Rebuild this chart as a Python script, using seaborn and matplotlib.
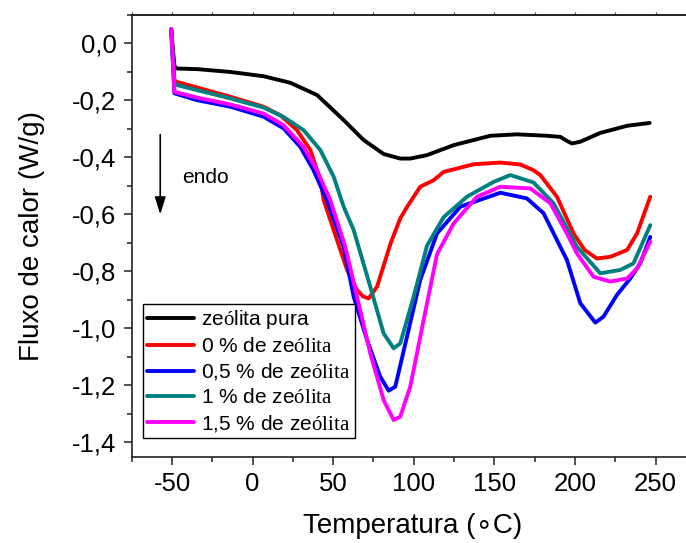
import matplotlib
matplotlib.use("Agg")
import matplotlib.pyplot as plt
from matplotlib.lines import Line2D
import numpy as np
import pandas as pd
import seaborn as sns

# ---------------- data ----------------
series_names = ["zeólita pura", "0 % de zeólita", "0,5 % de zeólita",
                "1 % de zeólita", "1,5 % de zeólita"]
legend_labels = [r"ze$\mathrm{ó}$lita pura", r"0 % de ze$\mathrm{ólita}$",
                 r"0,5 % de ze$\mathrm{ólita}$", r"1 % de ze$\mathrm{ólita}$",
                 r"1,5 % de ze$\mathrm{ólita}$"]
colors = ["#000000", "#FF0000", "#0000FF", "#008080", "#FF00FF"]

pura_T = [-50.5, -48.5, -46.9, -34.5, -13.8, 6.8, 23.4, 40, 56.5, 68.9, 81.3,
          91.6, 97.8, 108.2, 124.7, 147.5, 164, 182.6, 190.9, 195, 198.1,
          203.3, 215.7, 232.3, 246.3]
pura_F = [0.05, -0.08, -0.088, -0.090, -0.100, -0.115, -0.138, -0.181, -0.269,
          -0.339, -0.388, -0.404, -0.404, -0.392, -0.357, -0.324, -0.319,
          -0.324, -0.328, -0.342, -0.351, -0.345, -0.314, -0.289, -0.279]

z0_T = [-50.5, -48.5, -46.9, -13.8, 6.8, 17.2, 27.5, 35.8, 42.1, 44.1, 50.3,
        58.6, 64.8, 68.5, 72, 77.2, 85.6, 91.6, 95.9, 104, 112.3, 118.5, 137.1,
        153.7, 166.1, 174.3, 178.5, 188.8, 199.1, 206, 213.6, 221.9, 232.3,
        238.5, 246.7]
z0_F = [0.05, -0.13, -0.135, -0.187, -0.222, -0.252, -0.304, -0.374, -0.48,
        -0.55, -0.655, -0.795, -0.866, -0.888, -0.895, -0.854, -0.702, -0.614,
        -0.573, -0.503, -0.480, -0.451, -0.424, -0.418, -0.425, -0.445,
        -0.462, -0.538, -0.667, -0.725, -0.755, -0.749, -0.725, -0.667, -0.538]

z05_T = [-50.5, -48.5, -34.5, -13.8, 6.8, 19.2, 29.6, 37.8, 46.1, 56.5, 62.7,
         71, 79.2, 84.4, 88.5, 95.8, 104, 114.4, 128.9, 153.7, 170.2, 180.5,
         190.9, 195, 203.3, 212.6, 217.7, 226, 234.3, 240.5, 246.7]
z05_F = [0.05, -0.175, -0.199, -0.222, -0.257, -0.298, -0.363, -0.445, -0.550,
         -0.714, -0.889, -1.041, -1.170, -1.219, -1.205, -1.029, -0.830,
         -0.667, -0.573, -0.524, -0.544, -0.596, -0.714, -0.760, -0.912,
         -0.980, -0.959, -0.883, -0.825, -0.772, -0.679]

z1_T = [-50.5, -48.5, -46.9, -13.8, 6.8, 19.2, 31.6, 42, 50.3, 56.5, 62.7, 73,
        81.3, 87.5, 91.6, 99.9, 108.2, 118.5, 133, 149.5, 159.9, 174.3,
        186.7, 201.2, 215.7, 228.1, 236.3, 246.7]
z1_F = [0.05, -0.14, -0.146, -0.193, -0.225, -0.258, -0.304, -0.374, -0.468,
        -0.573, -0.655, -0.854, -1.018, -1.070, -1.053, -0.889, -0.71, -0.61,
        -0.538, -0.486, -0.462, -0.488, -0.561, -0.714, -0.807, -0.795,
        -0.772, -0.638]

z15_T = [-50.5, -48.5, -34.5, -13.8, 6.8, 19.2, 31.6, 39.9, 48.2, 57.5, 64.8,
         73, 81.3, 87.5, 91.6, 97.8, 106.1, 114.4, 124.7, 139.2, 153.7, 172.3,
         184.7, 195, 201.2, 211.5, 221.9, 232.3, 238.5, 246.7]
z15_F = [0.05, -0.17, -0.190, -0.214, -0.246, -0.287, -0.363, -0.445, -0.550,
         -0.714, -0.889, -1.088, -1.252, -1.322, -1.310, -1.205, -0.971,
         -0.74, -0.632, -0.538, -0.503, -0.509, -0.561, -0.667, -0.737,
         -0.819, -0.836, -0.825, -0.790, -0.696]

x_ticks = [-50, 0, 50, 100, 150, 200, 250]
x_ticklabels = ["-50", "0", "50", "100", "150", "200", "250"]
y_ticks = [0.0, -0.2, -0.4, -0.6, -0.8, -1.0, -1.2, -1.4]
y_ticklabels = ["0,0", "-0,2", "-0,4", "-0,6", "-0,8", "-1,0", "-1,2", "-1,4"]

# ---------------- build frame ----------------
all_T = [pura_T, z0_T, z05_T, z1_T, z15_T]
all_F = [pura_F, z0_F, z05_F, z1_F, z15_F]
frames = []
for name, T, F in zip(series_names, all_T, all_F):
    frames.append(pd.DataFrame({"T": T, "F": F, "serie": name}))
df = pd.concat(frames, ignore_index=True)

# ---------------- style ----------------
sns.set_style("white")
plt.rcParams["font.family"] = ["Liberation Sans", "DejaVu Sans"]
plt.rcParams["axes.unicode_minus"] = False
plt.rcParams["mathtext.fontset"] = "custom"
plt.rcParams["mathtext.rm"] = "Liberation Serif"
plt.rcParams["mathtext.it"] = "Liberation Serif:italic"
plt.rcParams["mathtext.bf"] = "Liberation Serif:bold"
for k in ["text.color", "axes.labelcolor", "xtick.color", "ytick.color"]:
    plt.rcParams[k] = "black"

fig = plt.figure(figsize=(6.86, 5.43), dpi=100)
ax = fig.add_axes([0.192, 0.1593, 0.8224, 0.8131])

sns.lineplot(data=df, x="T", y="F", hue="serie", hue_order=series_names,
             palette=colors, sort=False, estimator=None, units="serie",
             lw=2.8, legend=False, ax=ax)
for ln in ax.lines:
    ln.set_solid_joinstyle("round")
    ln.set_solid_capstyle("round")

ax.set_xlim(-75, 275)
ax.set_ylim(-1.45, 0.1)

ax.set_xticks(x_ticks)
ax.set_xticklabels(x_ticklabels)
ax.set_yticks(y_ticks)
ax.set_yticklabels(y_ticklabels)
ax.set_xticks(np.arange(-75, 276, 25), minor=True)
ax.set_yticks(np.arange(-1.4, 0.11, 0.1), minor=True)

ax.tick_params(axis="both", which="both", bottom=True, left=True,
               top=False, right=False)
ax.tick_params(axis="both", which="major", direction="out", length=6,
               width=1.1, labelsize=18.5, color="#222222", labelcolor="black")
ax.tick_params(axis="both", which="minor", direction="out", length=3.5,
               width=1.1, color="#222222")
ax.tick_params(axis="x", which="major", pad=5)
ax.tick_params(axis="y", which="major", pad=5)

for sp in ax.spines.values():
    sp.set_linewidth(1.2)
    sp.set_color("#222222")

sec = ax.secondary_xaxis("top")
sec.set_xticks(np.arange(-75, 276, 25))
sec.tick_params(top=True, direction="out", length=2, width=0.8,
                labeltop=False, color="#444444")
sec.spines["top"].set_linewidth(1.2)
sec.spines["top"].set_color("#222222")

ax.set_xlabel("Temperatura (\u2218C)", fontsize=20)
ax.set_ylabel("Fluxo de calor (W/g)", fontsize=20)
ax.xaxis.set_label_coords(0.4986, -0.128)
ax.yaxis.set_label_coords(-0.154, 0.5)

# endo arrow
ax.annotate("", xy=(-57.3, -0.60), xytext=(-57.3, -0.32),
            arrowprops=dict(arrowstyle="-|>,head_length=0.7,head_width=0.22",
                            color="black", lw=1.2, mutation_scale=15,
                            shrinkA=0, shrinkB=0))
ax.text(-43.8, -0.489, "endo", fontsize=15, va="baseline", ha="left")

handles = [Line2D([0], [0], color=c, lw=2.8) for c in colors]
leg = ax.legend(handles, legend_labels, loc="lower left",
                bbox_to_anchor=(0.0195, 0.0412), borderaxespad=0,
                fontsize=15, frameon=True, fancybox=False, edgecolor="black",
                framealpha=1, handlelength=2.25, handletextpad=0.35,
                labelspacing=0.27, borderpad=0.22)
leg.get_frame().set_linewidth(1.0)

fig.savefig("out.png", dpi=100)
